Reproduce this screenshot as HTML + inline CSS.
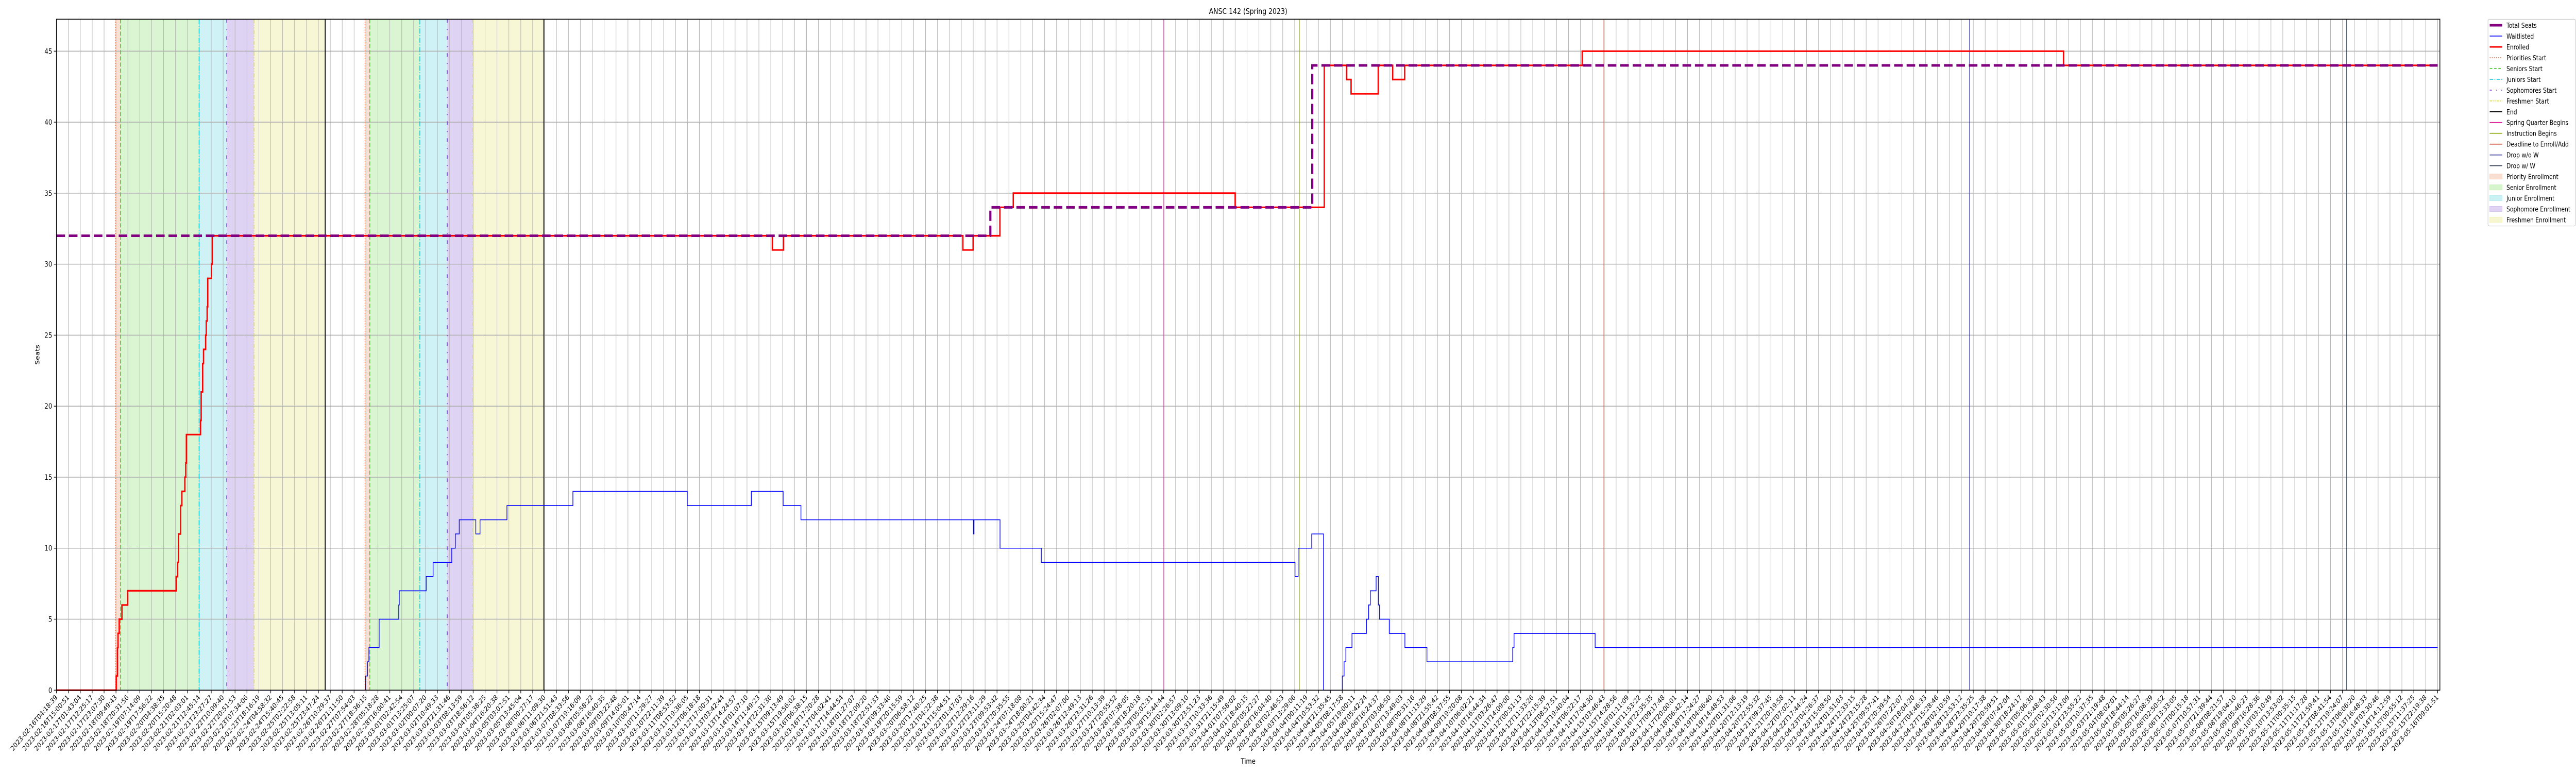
<!DOCTYPE html>
<html><head><meta charset="utf-8"><style>
html,body{margin:0;padding:0;background:#fff;width:100%;height:100%;overflow:hidden;}
svg{display:block;width:100vw;height:100vh;overflow:hidden;font-family:"DejaVu Sans","Liberation Sans",sans-serif;}
</style></head><body>
<svg id="chart" viewBox="0 0 6000 1500" preserveAspectRatio="none" xmlns="http://www.w3.org/2000/svg">
<defs><clipPath id="pageclip"><rect x="0" y="0" width="6000" height="1500"/></clipPath></defs>
<rect width="6000" height="1500" fill="#fff"/>
<g clip-path="url(#pageclip)">
<g id="shades"></g><g id="grid"></g><g id="vlines"></g><g id="series"></g><g id="axes"></g><g id="legend"></g>
</g>
</svg>
<script>
// ---- data (hours since 2023-02-16T04:18:39) ----
const enrolledT = [0,53.73,54.81,55.35,56.43,58.86,64.00,107.61,108.96,109.77,111.66,112.75,115.45,116.26,116.8,129.53,130.08,131.43,132.24,134.13,134.67,135.48,136.02,139.30,140.11,643.6,653.7,814.9,824.1,848.2,860.2,1059.7,1139.8,1159.9,1163.9,1188.3,1201.3,1212.1,1371.7,1804.4];
const enrolledV = [0,1,3,4,5,6,7,8,9,11,13,14,15,16,18,19,21,23,24,25,26,27,29,30,32,31,32,31,32,34,35,34,44,43,42,44,43,44,45,44];
const waitT = [0,277.9,279.6,280.9,290.1,307.7,308.2,332.4,338.6,355.4,358.6,362.1,377.0,380.8,405.0,464.3,567.1,624.7,653.3,669.3,824.4,824.9,848.3,885.4,1113.5,1116.3,1128.5,1139.1,1156.0,1157.6,1159.2,1164.7,1177.7,1179.7,1181.2,1186.4,1188.4,1189.5,1198.2,1212.3,1232.1,1309.2,1310.4,1383.3];
const waitV = [0,1,2,3,5,6,7,8,9,10,11,12,11,12,13,14,13,14,13,12,11,12,10,9,8,10,11,0,1,2,3,4,5,6,7,8,6,5,4,3,2,3,4,3];
const seatsT = [0,839.6,1129.0];
const seatsV = [32,34,44];
const endT = 2140.71;
const eventNames = ["Priorities Start","Seniors Start","Juniors Start","Sophomores Start","Freshmen Start","End"];
const eventSet1 = [53.2,57.5,128.2,153.1,177.7,241.6];
const eventSet2 = [277.4,281.7,326.7,351.3,374.3,438.2];
const milestoneNames = ["Spring Quarter Begins","Instruction Begins","Deadline to Enroll/Add","Drop w/o W","Drop w/ W"];
const milestoneT = [995.6,1117.4,1391.2,1719.9,2058.9];
const yTicks = [0,5,10,15,20,25,30,35,40,45];
const tickCount = 201;
const tickStepH = 10.7036;
const startMs = Date.UTC(2023,1,16,4,18,39);
const tickLabels = [];
for (let i=0;i<tickCount;i++){ tickLabels.push(new Date(startMs+Math.round(i*tickStepH*3600000)).toISOString().slice(0,19)); }

// ---- scales ----
const L=131.5, R=5683, T=37.3, B=1339.3;
const xMax=(R-L)/2.5908;
const yMax=47.25;
const X=h=>L+h/xMax*(R-L);
const Y=v=>B-v/yMax*(B-T);
const NS="http://www.w3.org/2000/svg";
function mk(tag,attrs,parent){const e=document.createElementNS(NS,tag);for(const k in attrs)e.setAttribute(k,attrs[k]);parent.appendChild(e);return e;}

// shading
const shadeCols=["rgba(238,150,110,0.3)","rgba(120,220,90,0.28)","rgba(80,210,220,0.28)","rgba(150,110,220,0.3)","rgba(230,230,120,0.3)"];
const shadeNames=["priority-enrollment","senior-enrollment","junior-enrollment","sophomore-enrollment","freshman-enrollment"];
const gS=document.getElementById('shades');
[eventSet1,eventSet2].forEach((set,si)=>{
  for(let i=0;i<5;i++){
    const r=mk('rect',{x:X(set[i]),y:T,width:X(set[i+1])-X(set[i]),height:B-T,fill:shadeCols[i]},gS);
    
    
  }
});
// grid
const gG=document.getElementById('grid');
for(let i=0;i<tickCount;i++){const x=X(i*tickStepH);
  const l=mk('line',{x1:x,x2:x,y1:T,y2:B,stroke:'#b0b0b0','stroke-width':1.1},gG);
  
  }
yTicks.forEach(v=>{const l=mk('line',{x1:L,x2:R,y1:Y(v),y2:Y(v),stroke:'#b0b0b0','stroke-width':1.6},gG);
  
  });
// event lines
const evStyle=[["#ee6633","2,3"],["#33cc11","8,4"],["#00c0d0","10,3,2,3"],["#6622cc","7,12,2,12"],["#dddd33","8,3,2,3,2,3"],["#000000",""]];
const gV=document.getElementById('vlines');
[eventSet1,eventSet2].forEach(set=>{set.forEach((t,i)=>{
  const l=mk('line',{x1:X(t),x2:X(t),y1:T,y2:B,stroke:evStyle[i][0],'stroke-width':i==5?2:1.6,'stroke-dasharray':evStyle[i][1]},gV);
  
  
});});
const msCols=["#dd1199","#88aa00","#cc3311","#333399","#2b3a55"];
milestoneT.forEach((t,i)=>{const l=mk('line',{x1:X(t),x2:X(t),y1:T,y2:B,stroke:msCols[i],'stroke-width':1.3},gV);
  
  });
// step series
function stepPath(ts,vs){let d='M'+X(ts[0])+','+Y(vs[0]);for(let i=1;i<ts.length;i++){d+=' H'+X(ts[i])+' V'+Y(vs[i]);}d+=' H'+X(endT);return d;}
const gSer=document.getElementById('series');
const pw=mk('path',{d:stepPath(waitT,waitV),fill:'none',stroke:'#0000ff','stroke-width':1.6},gSer);


const pe=mk('path',{d:stepPath(enrolledT,enrolledV),fill:'none',stroke:'#ff0000','stroke-width':3.2},gSer);


const ps=mk('path',{d:stepPath(seatsT,seatsV),fill:'none',stroke:'#800080','stroke-width':5,'stroke-dasharray':'20,9'},gSer);


// axes
const gA=document.getElementById('axes');
const fr=mk('rect',{x:L,y:T,width:R-L,height:B-T,fill:'none',stroke:'#000','stroke-width':1.6},gA);


yTicks.forEach(v=>{mk('line',{x1:L-6,x2:L,y1:Y(v),y2:Y(v),stroke:'#000','stroke-width':1.3},gA);
  const t=mk('text',{x:L-10,y:Y(v)+5,'text-anchor':'end','font-size':14,fill:'#000'},gA);t.textContent=v;
  
  });
tickLabels.forEach((s,i)=>{const x=X(i*tickStepH);
  mk('line',{x1:x,x2:x,y1:B,y2:B+6,stroke:'#000','stroke-width':1.3},gA);
  const t=mk('text',{x:x,y:B+16,'text-anchor':'end','font-size':13.5,fill:'#000',transform:'rotate(-45 '+x+' '+(B+12)+')'},gA);
  t.textContent=s;
  
  });
const ti=mk('text',{x:(L+R)/2,y:27,'text-anchor':'middle','font-size':15,fill:'#000'},gA);ti.textContent='ANSC 142 (Spring 2023)';


const xl=mk('text',{x:(L+R)/2,y:1482,'text-anchor':'middle','font-size':14,fill:'#000'},gA);xl.textContent='Time';


const yl=mk('text',{x:92,y:(T+B)/2,'text-anchor':'middle','font-size':14,fill:'#000',transform:'rotate(-90 92 '+((T+B)/2)+')'},gA);yl.textContent='Seats';


// legend
const gL=document.getElementById('legend');
const lb=mk('rect',{x:5795,y:37.5,width:204,height:401,rx:3,fill:'#fff',stroke:'#cccccc','stroke-width':1.3},gL);


const legItems=[
 ['Total Seats','line','#800080',5,''],['Waitlisted','line','#0000ff',1.6,''],['Enrolled','line','#ff0000',3,''],
 ['Priorities Start','line','#ee6633',1.6,'2,3'],['Seniors Start','line','#33cc11',1.6,'6,4'],['Juniors Start','line','#00c0d0',1.6,'8,3,2,3'],
 ['Sophomores Start','line','#6622cc',1.6,'5,10,2,10'],['Freshmen Start','line','#dddd33',1.6,'6,2,2,2,2,2'],['End','line','#000',2,''],
 ['Spring Quarter Begins','line','#dd1199',1.6,''],['Instruction Begins','line','#88aa00',1.6,''],['Deadline to Enroll/Add','line','#cc3311',1.6,''],
 ['Drop w/o W','line','#333399',1.6,''],['Drop w/ W','line','#2b3a55',1.6,''],
 ['Priority Enrollment','box','rgba(238,150,110,0.3)'],['Senior Enrollment','box','rgba(120,220,90,0.3)'],['Junior Enrollment','box','rgba(80,210,220,0.3)'],
 ['Sophomore Enrollment','box','rgba(150,110,220,0.3)'],['Freshmen Enrollment','box','rgba(230,230,120,0.35)']];
legItems.forEach((it,i)=>{const cy=49+i*20.97;
  const g=mk('g',{},gL);
  
  
  if(it[1]=='line') mk('line',{x1:5799,x2:5828,y1:cy,y2:cy,stroke:it[2],'stroke-width':it[3],'stroke-dasharray':it[4]},g);
  else mk('rect',{x:5799,y:cy-5,width:29,height:10,fill:it[2],stroke:it[2]},g);
  const t=mk('text',{x:5838,y:cy+5,'font-size':13,fill:'#000'},g);t.textContent=it[0];
});
</script>
</body></html>
